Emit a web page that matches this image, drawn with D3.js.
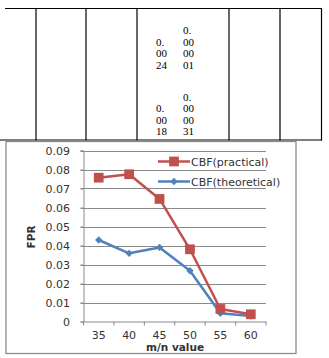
<!DOCTYPE html>
<html>
<head>
<meta charset="utf-8">
<script src="https://cdn.jsdelivr.net/npm/d3@7/dist/d3.min.js"></script>
<style>
  html, body { margin: 0; padding: 0; background: #fff; }
  svg { display: block; }
</style>
</head>
<body>
<svg id="page" width="329" height="358"></svg>
<script>
// m/n ratios on the x axis
const categories = [35, 40, 45, 50, 55, 60];
// false positive rate measured for the CBF
const practical = [0.0757, 0.0775, 0.0645, 0.038, 0.0066, 0.0038];
// false positive rate predicted for the CBF
const theoretical = [0.0429, 0.0359, 0.039, 0.0267, 0.0043, 0.0029];
// y axis ticks
const yTicks = [0, 0.01, 0.02, 0.03, 0.04, 0.05, 0.06, 0.07, 0.08, 0.09];
const seriesNames = ["CBF(practical)", "CBF(theoretical)"];

// fragment of the table above the chart: wrapped numbers in one cell
const tableColumnEdges = [36, 86, 137, 229, 280, 321.5];
const cellLeft = ["0.", "00", "24"];
const cellRight = ["0.", "00", "00", "01"];
const cellLeft2 = ["0.", "00", "18"];
const cellRight2 = ["0.", "00", "00", "31"];

const svg = d3.select("#page");

// ---- table ----
const table = svg.append("g");
table.append("line").attr("x1", 5).attr("x2", 322).attr("y1", 8.5).attr("y2", 8.5)
  .attr("stroke", "#000").attr("stroke-width", 1.2);
table.append("line").attr("x1", 0).attr("x2", 322).attr("y1", 140).attr("y2", 140)
  .attr("stroke", "#000").attr("stroke-width", 1.2);
table.selectAll("line.col").data(tableColumnEdges).join("line")
  .attr("class", "col")
  .attr("x1", d => d).attr("x2", d => d).attr("y1", 8).attr("y2", 140.5)
  .attr("stroke", "#000").attr("stroke-width", 1.2);

const tfont = { family: "'Liberation Serif', 'Times New Roman', serif", size: 11 };
function cellColumn(lines, x, firstBaseline) {
  table.append("g").selectAll("text").data(lines).join("text")
    .attr("x", x)
    .attr("y", (d, i) => firstBaseline + i * 11.6)
    .attr("font-family", tfont.family).attr("font-size", tfont.size)
    .attr("fill", "#000")
    .text(d => d);
}
cellColumn(cellRight, 183, 34);
cellColumn(cellLeft, 156, 45.6);
cellColumn(cellRight2, 183, 100.5);
cellColumn(cellLeft2, 156, 112);

// ---- chart frame ----
svg.append("rect").attr("x", 6).attr("y", 141.5).attr("width", 290).attr("height", 212)
  .attr("fill", "#fff").attr("stroke", "#8c8c8c").attr("stroke-width", 1.3);

const plot = { left: 83.5, right: 266, top: 150.5, bottom: 321.5 };
const x = d3.scaleBand().domain(categories).range([plot.left, plot.right]);
const y = d3.scaleLinear().domain([0, 0.09]).range([plot.bottom, plot.top]);

const font = "'DejaVu Sans', sans-serif";
const gridColor = "#8a8a8a";
const textColor = "#333";

// horizontal gridlines
svg.append("g").selectAll("line").data(yTicks.filter(d => d > 0)).join("line")
  .attr("x1", plot.left - 3).attr("x2", plot.right)
  .attr("y1", d => Math.round(y(d)) + 0.5).attr("y2", d => Math.round(y(d)) + 0.5)
  .attr("stroke", gridColor).attr("stroke-width", 1);

// y axis
const yAxis = svg.append("g").attr("transform", `translate(${plot.left},0)`)
  .call(d3.axisLeft(y).tickValues(yTicks).tickSize(3).tickPadding(10.5)
    .tickFormat(d => d === 0 ? "0" : d3.format(".2f")(d)));
yAxis.select(".domain").attr("stroke", gridColor);
yAxis.selectAll(".tick line").attr("stroke", gridColor);
yAxis.selectAll(".tick text").attr("font-family", font).attr("font-size", 11).attr("fill", textColor);

// x axis with ticks at band boundaries
const xAxisG = svg.append("g").attr("transform", `translate(0,${plot.bottom})`);
xAxisG.append("line").attr("x1", plot.left).attr("x2", plot.right).attr("y1", 0.5).attr("y2", 0.5)
  .attr("stroke", gridColor);
const edges = categories.map(c => x(c)).concat([plot.right]);
xAxisG.selectAll("line.tk").data(edges).join("line").attr("class", "tk")
  .attr("x1", d => d).attr("x2", d => d).attr("y1", 0).attr("y2", 4)
  .attr("stroke", gridColor);
xAxisG.selectAll("text").data(categories).join("text")
  .attr("x", d => x(d) + x.bandwidth() / 2).attr("y", 17)
  .attr("text-anchor", "middle")
  .attr("font-family", font).attr("font-size", 11).attr("fill", textColor)
  .text(d => d);

// axis titles
svg.append("text").attr("x", 175).attr("y", 351).attr("text-anchor", "middle")
  .attr("font-family", font).attr("font-size", 10.5).attr("font-weight", "bold").attr("fill", textColor)
  .text("m/n value");
svg.append("text").attr("transform", "translate(35,237) rotate(-90)").attr("text-anchor", "middle")
  .attr("font-family", font).attr("font-size", 10.5).attr("font-weight", "bold").attr("fill", textColor)
  .text("FPR");

// series
const red = "#c0504d", blue = "#4f81bd";
const cx = d => x(d) + x.bandwidth() / 2;
const line = d3.line().x(d => cx(d.c)).y(d => y(d.v));
const practicalPts = categories.map((c, i) => ({ c, v: practical[i] }));
const theoreticalPts = categories.map((c, i) => ({ c, v: theoretical[i] }));

svg.append("path").datum(theoreticalPts).attr("d", line)
  .attr("fill", "none").attr("stroke", blue).attr("stroke-width", 2.5).attr("stroke-linejoin", "round");
svg.append("path").datum(practicalPts).attr("d", line)
  .attr("fill", "none").attr("stroke", red).attr("stroke-width", 2.5).attr("stroke-linejoin", "round");

const diamond = d3.symbol().type(d3.symbolDiamond2).size(34);
const square = d3.symbol().type(d3.symbolSquare).size(95);

svg.append("g").selectAll("path").data(theoreticalPts).join("path")
  .attr("transform", d => `translate(${cx(d.c)},${y(d.v)})`)
  .attr("d", diamond).attr("fill", blue);
svg.append("g").selectAll("path").data(practicalPts).join("path")
  .attr("transform", d => `translate(${cx(d.c)},${y(d.v)})`)
  .attr("d", square).attr("fill", red);

// legend
const legend = svg.append("g");
const legendRows = [
  { name: seriesNames[0], color: red, sym: square, y: 161.5 },
  { name: seriesNames[1], color: blue, sym: diamond, y: 181.5 }
];
legendRows.forEach(r => {
  legend.append("line").attr("x1", 158).attr("x2", 190).attr("y1", r.y).attr("y2", r.y)
    .attr("stroke", r.color).attr("stroke-width", 2.5);
  legend.append("path").attr("transform", `translate(174,${r.y})`).attr("d", r.sym).attr("fill", r.color);
  legend.append("text").attr("x", 191).attr("y", r.y + 4)
    .attr("font-family", font).attr("font-size", 11).attr("fill", textColor)
    .text(r.name);
});
</script>
</body>
</html>
